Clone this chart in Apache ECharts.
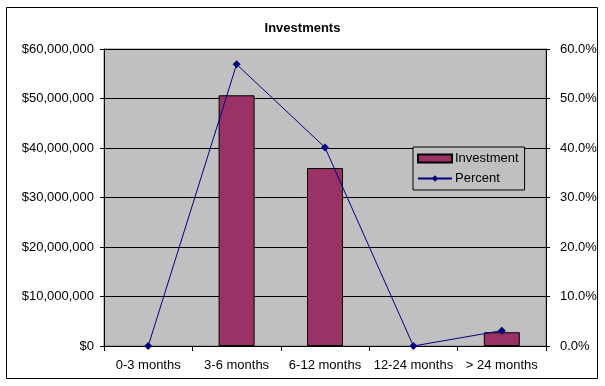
<!DOCTYPE html>
<html>
<head>
<meta charset="utf-8">
<script src="https://cdn.jsdelivr.net/npm/echarts@6/dist/echarts.min.js"></script>
<style>
html,body{margin:0;padding:0;background:#fff;}
#c{width:605px;height:386px;}
</style>
</head>
<body>
<div id="c"></div>
<script>
var categories = ['0-3 months', '3-6 months', '6-12 months', '12-24 months', '> 24 months'];
var investment = [0, 50650000, 35950000, 0, 2780000];
var percent = [0, 56.9, 40.1, 0, 3.1];
var leftTicks = ['$0', '$10,000,000', '$20,000,000', '$30,000,000', '$40,000,000', '$50,000,000', '$60,000,000'];
var rightTicks = ['0.0%', '10.0%', '20.0%', '30.0%', '40.0%', '50.0%', '60.0%'];

var FONT = 'Liberation Sans, Arial, sans-serif';
var chart = echarts.init(document.getElementById('c'), null, {renderer: 'canvas'});
chart.setOption({
  animation: false,
  backgroundColor: '#fff',
  title: {
    text: 'Investments',
    left: 'center',
    top: 17,
    textStyle: {fontFamily: FONT, fontSize: 13, fontWeight: 'bold', color: '#000'}
  },
  graphic: [{
    type: 'rect',
    shape: {x: 6.5, y: 7.5, width: 591, height: 371},
    style: {fill: 'none', stroke: '#000', lineWidth: 1},
    z: 100
  }],
  legend: {
    orient: 'vertical',
    left: 413,
    top: 147,
    padding: [5, 6, 5, 4],
    itemGap: 7,
    itemWidth: 34,
    itemHeight: 8,
    borderColor: '#000',
    borderWidth: 1,
    backgroundColor: '#C0C0C0',
    textStyle: {fontFamily: FONT, fontSize: 13, color: '#000', padding: [0, 0, 0, -2]},
    data: [
      {name: 'Investment', icon: 'rect'},
      {name: 'Percent'}
    ]
  },
  grid: {
    left: 104, right: 59, top: 49, bottom: 40,
    show: true,
    backgroundColor: '#C0C0C0',
    borderColor: '#808080',
    borderWidth: 1
  },
  xAxis: {
    type: 'category',
    data: categories,
    boundaryGap: true,
    axisLine: {lineStyle: {color: '#000'}},
    axisTick: {show: true, inside: false, length: 5, lineStyle: {color: '#000'}},
    axisLabel: {fontFamily: FONT, fontSize: 13, color: '#000', margin: 13, interval: 0}
  },
  yAxis: [{
    type: 'value',
    min: 0, max: 60000000, interval: 10000000,
    axisLine: {show: true, lineStyle: {color: '#000'}},
    axisTick: {show: true, length: 4, lineStyle: {color: '#000'}},
    splitLine: {show: true, lineStyle: {color: '#000', width: 1}},
    axisLabel: {
      fontFamily: FONT, fontSize: 13, color: '#000', margin: 10,
      formatter: function (v) { return leftTicks[Math.round(v / 10000000)]; }
    }
  }, {
    type: 'value',
    min: 0, max: 60, interval: 10,
    position: 'right',
    axisLine: {show: true, lineStyle: {color: '#000'}},
    axisTick: {show: true, length: 4, lineStyle: {color: '#000'}},
    splitLine: {show: false},
    axisLabel: {
      fontFamily: FONT, fontSize: 13, color: '#000', margin: 14,
      formatter: function (v) { return rightTicks[Math.round(v / 10)]; }
    }
  }],
  series: [{
    name: 'Investment',
    type: 'bar',
    data: investment.map(function (v) {
      return v === 0 ? {value: v, itemStyle: {borderWidth: 0}} : v;
    }),
    barWidth: 36,
    itemStyle: {color: '#993366', borderColor: '#000', borderWidth: 1}
  }, {
    name: 'Percent',
    type: 'line',
    yAxisIndex: 1,
    data: percent,
    symbol: 'diamond',
    symbolSize: 8,
    showAllSymbol: true,
    lineStyle: {color: '#000080', width: 1},
    itemStyle: {color: '#000080'},
    z: 5
  }]
});
</script>
</body>
</html>
